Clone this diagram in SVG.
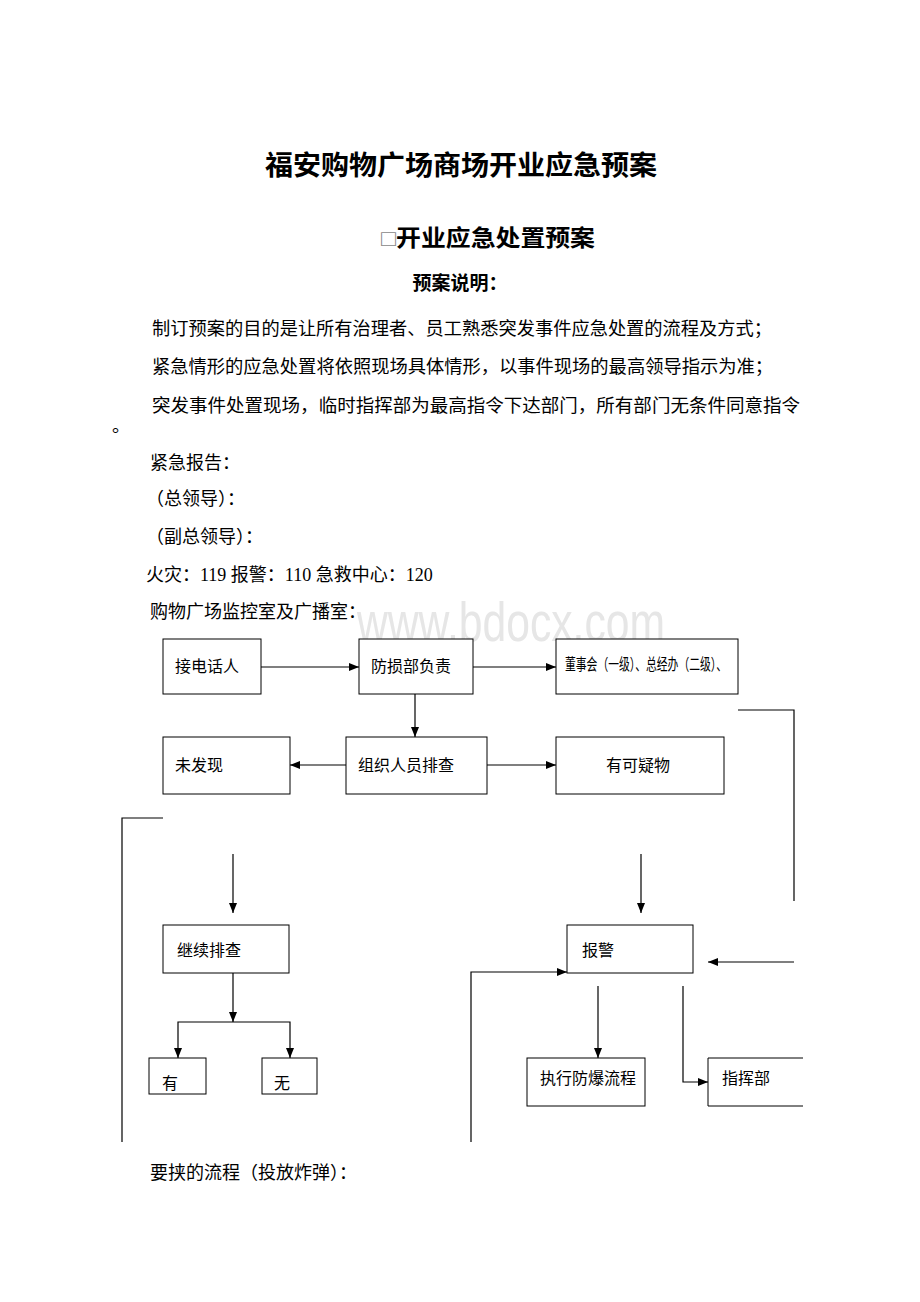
<svg xmlns="http://www.w3.org/2000/svg" width="920" height="1302" viewBox="0 0 920 1302">
<style>
.t{font-family:"Liberation Serif","Noto Sans CJK SC",serif;fill:#000}
.body{font-size:18px}
.box{fill:#fff;stroke:#000;stroke-width:1}
.lbl{font-family:"Liberation Serif","Noto Sans CJK SC",serif;font-size:16px;fill:#000}
.ln{fill:none;stroke:#000;stroke-width:1.2}
.ar{fill:none;stroke:#000;stroke-width:1.2;marker-end:url(#ah)}
</style>
<defs>
<marker id="ah" markerUnits="userSpaceOnUse" markerWidth="10" markerHeight="8" refX="10" refY="4" orient="auto">
<path d="M0,0 L10,4 L0,8 z" fill="#000"/>
</marker>
</defs>
<rect width="920" height="1302" fill="#fff"/>
<text x="511" y="641" text-anchor="middle" font-family="Liberation Sans, sans-serif" font-size="56" fill="#e6e6e6" textLength="308" lengthAdjust="spacingAndGlyphs">www.bdocx.com</text>

<g id="header">
<text class="t" x="461" y="175" text-anchor="middle" font-size="27.5" font-weight="bold" textLength="392" lengthAdjust="spacingAndGlyphs">福安购物广场商场开业应急预案</text>
<text class="t" x="488" y="246" text-anchor="middle" font-size="23" font-weight="bold" textLength="214" lengthAdjust="spacingAndGlyphs"><tspan fill="#888" font-weight="normal">□</tspan>开业应急处置预案</text>
<text class="t" x="460" y="290" text-anchor="middle" font-size="19" font-weight="bold">预案说明：</text>
<text class="t body" x="152" y="335" textLength="620" lengthAdjust="spacingAndGlyphs">制订预案的目的是让所有治理者、员工熟悉突发事件应急处置的流程及方式；</text>
<text class="t body" x="152" y="373" textLength="621" lengthAdjust="spacingAndGlyphs">紧急情形的应急处置将依照现场具体情形，以事件现场的最高领导指示为准；</text>
<text class="t body" x="152" y="412" textLength="648" lengthAdjust="spacingAndGlyphs">突发事件处置现场，临时指挥部为最高指令下达部门，所有部门无条件同意指令</text>
<text class="t body" x="112" y="432">。</text>
<text class="t body" x="150" y="469">紧急报告：</text>
<text class="t body" x="146" y="505">（总领导）：</text>
<text class="t body" x="146" y="543">（副总领导）：</text>
<text class="t body" x="146" y="581">火灾：119 报警：110 急救中心：120</text>
<text class="t body" x="150" y="618">购物广场监控室及广播室：</text>
<text class="t body" x="150" y="1179">要挟的流程（投放炸弹）：</text>
</g>

<g id="connectors">
<path class="ar" d="M261,667 H359"/>
<path class="ar" d="M473,667 H556"/>
<path class="ar" d="M415,694 V737"/>
<path class="ar" d="M346,765 H290"/>
<path class="ar" d="M487,765 H556"/>
<path class="ln" d="M738,710 H794 V901"/>
<path class="ln" d="M163,818 H122 V1142"/>
<path class="ar" d="M233,854 V913"/>
<path class="ar" d="M641,854 V913"/>
<path class="ar" d="M794,962 H708"/>
<path class="ar" d="M471,1142 V972 H567"/>
<path class="ar" d="M233,973 V1022"/>
<path class="ar" d="M233,1022 H178 V1058"/>
<path class="ar" d="M233,1022 H290 V1058"/>
<path class="ar" d="M598,986 V1058"/>
<path class="ar" d="M683,986 V1082 H708"/>
</g>

<g id="n1"><rect class="box" x="163" y="639" width="98" height="55"/><text class="lbl" x="175" y="672">接电话人</text></g>
<g id="n2"><rect class="box" x="359" y="639" width="114" height="55"/><text class="lbl" x="371" y="672">防损部负责</text></g>
<g id="n3"><rect class="box" x="556" y="639" width="182" height="55"/><text class="lbl" x="565" y="670" font-size="11" textLength="162" lengthAdjust="spacingAndGlyphs">董事会（一级）、总经办（二级）、</text></g>
<g id="n4"><rect class="box" x="163" y="737" width="127" height="57"/><text class="lbl" x="175" y="771">未发现</text></g>
<g id="n5"><rect class="box" x="346" y="737" width="141" height="57"/><text class="lbl" x="358" y="771">组织人员排查</text></g>
<g id="n6"><rect class="box" x="556" y="737" width="168" height="57"/><text class="lbl" x="606" y="771">有可疑物</text></g>
<g id="n7"><rect class="box" x="163" y="925" width="126" height="48"/><text class="lbl" x="177" y="956">继续排查</text></g>
<g id="n8"><rect class="box" x="567" y="925" width="126" height="48"/><text class="lbl" x="582" y="956">报警</text></g>
<g id="n9"><rect class="box" x="149" y="1058" width="57" height="36"/><text class="lbl" x="162" y="1089">有</text></g>
<g id="n10"><rect class="box" x="262" y="1058" width="55" height="36"/><text class="lbl" x="274" y="1089">无</text></g>
<g id="n11"><rect class="box" x="527" y="1058" width="118" height="48"/><text class="lbl" x="540" y="1084">执行防爆流程</text></g>
<g id="n12"><path d="M803,1058 H708 V1106 H803" fill="#fff" stroke="#000" stroke-width="1"/><text class="lbl" x="722" y="1084">指挥部</text></g>
</svg>
